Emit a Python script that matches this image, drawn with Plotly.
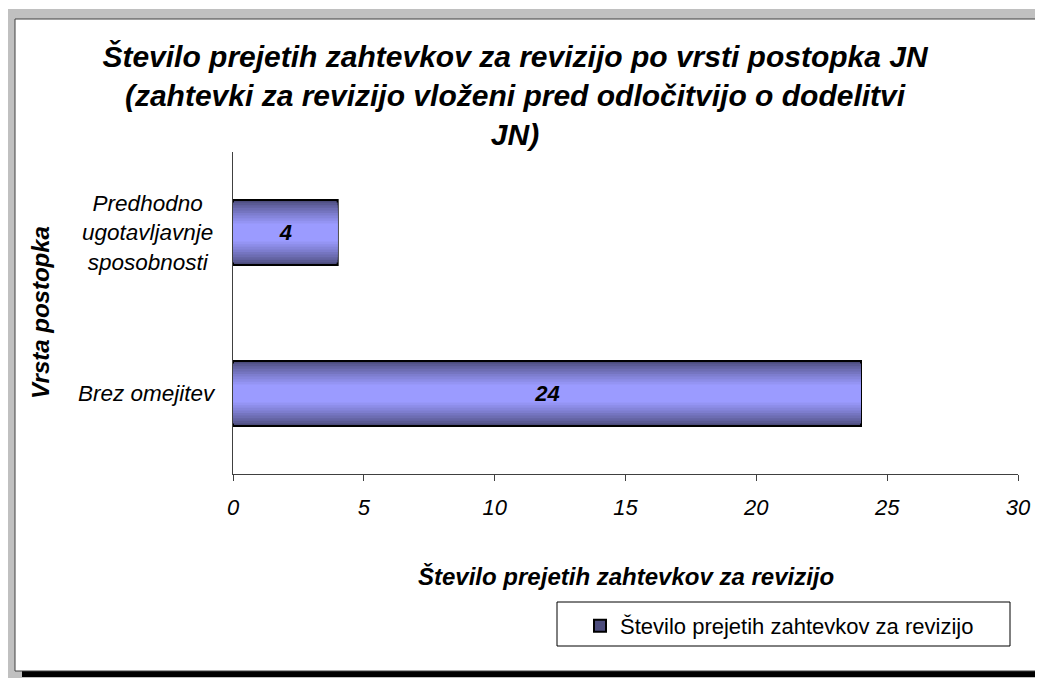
import plotly.graph_objects as go

# ---- data ----
categories = ["Brez omejitev", "Predhodno<br>ugotavljavnje<br>sposobnosti"]
values = [24, 4]
series_name = "Število prejetih zahtevkov za revizijo"
title_text = ("Število prejetih zahtevkov za revizijo po vrsti postopka JN<br>"
              "(zahtevki za revizijo vloženi pred odločitvijo o dodelitvi<br>JN)")
x_title = "Število prejetih zahtevkov za revizijo"
y_title = "Vrsta postopka"
x_ticks = [0, 5, 10, 15, 20, 25, 30]

# ---- layout geometry (pixels, figure coordinates; page has 8px body margin) ----
OFF = 8
W_FIG, H_FIG = 1043 - OFF, 678 - OFF
L, R, T, B = 233 - OFF, 1018 - OFF, 152 - OFF, 474 - OFF
PW, PH = R - L, B - T


def px(x):
    """reference-page x pixel -> paper x"""
    return (x - OFF - L) / PW


def py(y):
    """reference-page y pixel -> paper y"""
    return (B - (y - OFF)) / PH


FONT = "Liberation Sans, Arial, sans-serif"

fig = go.Figure()

# gradient bar built from overlaid bars of decreasing thickness
n_steps = 10
dark = (76, 76, 124)
light = (155, 155, 255)
for i in range(n_steps):
    t = i / (n_steps - 1)
    col = tuple(int(round(dark[k] + (light[k] - dark[k]) * (t ** 0.8))) for k in range(3))
    width = 0.404 * (1 - 0.72 * t)
    first = i == 0
    last = i == n_steps - 1
    fig.add_trace(go.Bar(
        x=values,
        y=categories,
        orientation="h",
        width=width,
        name=series_name,
        showlegend=first,
        marker=dict(color="rgb(%d,%d,%d)" % col,
                    line=dict(color="black", width=2 if first else 0)),
        text=[str(v) for v in values] if last else None,
        textposition="inside" if last else "none",
        insidetextanchor="middle",
        constraintext="none",
        textangle=0,
        textfont=dict(family=FONT, size=22, color="black", weight="bold", style="italic"),
        hoverinfo="x+y",
    ))

shapes = [
    # outer grey frame
    dict(type="rect", xref="paper", yref="paper", x0=px(0), x1=px(1060), y0=py(9), y1=py(700),
         fillcolor="#C0C0C0", line=dict(width=0), layer="below"),
    # black shadow
    dict(type="rect", xref="paper", yref="paper", x0=px(22), x1=px(1060), y0=py(25), y1=py(677),
         fillcolor="black", line=dict(width=0), layer="below"),
    # white chart panel
    dict(type="rect", xref="paper", yref="paper", x0=px(15), x1=px(1060), y0=py(19), y1=py(671),
         fillcolor="white", line=dict(color="#404040", width=1), layer="below"),
    # legend box
    dict(type="rect", xref="paper", yref="paper", x0=px(557), x1=px(1010), y0=py(602), y1=py(646),
         fillcolor="white", line=dict(color="black", width=1), layer="below"),
]

annotations = [
    dict(text=x_title, xref="paper", yref="paper", x=0.5, y=py(576),
         xanchor="center", yanchor="middle", showarrow=False,
         font=dict(family=FONT, size=24, color="black", weight="bold", style="italic")),
    dict(text=y_title, xref="paper", yref="paper", x=px(40), y=0.5,
         xanchor="center", yanchor="middle", showarrow=False, textangle=-90,
         font=dict(family=FONT, size=24, color="black", weight="bold", style="italic")),
]
for c in categories:
    annotations.append(dict(text=c, xref="paper", yref="y", x=px(147), y=c,
                            xanchor="center", yanchor="middle", align="center", showarrow=False,
                            font=dict(family=FONT, size=22.5, color="black", style="italic")))

fig.update_layout(
    width=W_FIG, height=H_FIG,
    margin=dict(l=L, r=W_FIG - R, t=T, b=H_FIG - B, autoexpand=False),
    paper_bgcolor="white",
    plot_bgcolor="rgba(0,0,0,0)",
    barmode="overlay",
    title=dict(text=title_text, x=px(515), xref="paper", xanchor="center",
               y=1 - 59 / H_FIG, yref="container", yanchor="top",
               font=dict(family=FONT, size=30, color="black", weight="bold", style="italic")),
    shapes=shapes,
    annotations=annotations,
    legend=dict(x=px(580), y=py(605), xanchor="left", yanchor="top",
                bgcolor="rgba(0,0,0,0)", borderwidth=0,
                font=dict(family=FONT, size=22, color="black")),
    xaxis=dict(range=[0, 30], tickvals=x_ticks, ticktext=[str(v) for v in x_ticks],
               showgrid=False, zeroline=False, showline=True, linecolor="#404040", linewidth=1,
               ticks="outside", ticklen=6, tickcolor="#404040", ticklabelstandoff=8,
               tickfont=dict(family=FONT, size=22, color="black", style="italic"),
               fixedrange=True),
    yaxis=dict(range=[-0.5, 1.5], showticklabels=False, showgrid=False, zeroline=False,
               showline=True, linecolor="#404040", linewidth=1, ticks="",
               categoryorder="array", categoryarray=categories, fixedrange=True),
)

fig.write_html("out.html")
